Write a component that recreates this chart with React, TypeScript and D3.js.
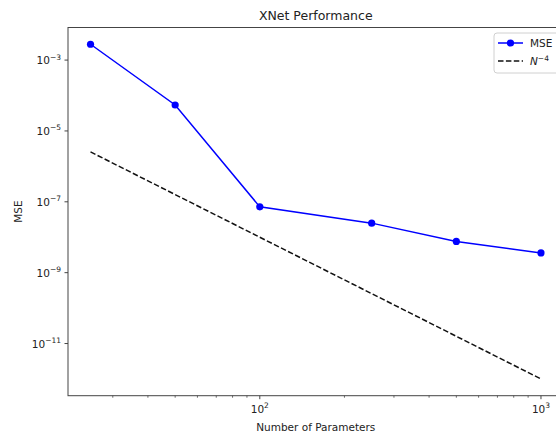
import React from 'react';
import * as d3 from 'd3';

// data
const params = [25, 50, 100, 250, 500, 1000];
const mse = [2.8e-3, 5.4e-5, 7.2e-8, 2.5e-8, 7.6e-9, 3.6e-9];
const refLine = [2.56e-6, 1.6e-7, 1e-8, 2.56e-10, 1.6e-11, 1e-12]; // N^-4
const xMajor = [100, 1000];
const yMajor = [1e-3, 1e-5, 1e-7, 1e-9, 1e-11];

const W = 556;
const H = 434;
const plot = { left: 68, right: 563.5, top: 27.5, bottom: 395.7 };
const font = 'DejaVu Sans, sans-serif';

// matplotlib-like 5% margin in log space
const logPad = (lo: number, hi: number) => {
  const a = Math.log10(lo), b = Math.log10(hi);
  const m = (b - a) * 0.05;
  return [Math.pow(10, a - m), Math.pow(10, b + m)];
};

const App = () => {
  const x = d3.scaleLog()
    .domain(logPad(d3.min(params)!, d3.max(params)!))
    .range([plot.left, plot.right]);
  const allY = [...mse, ...refLine];
  const y = d3.scaleLog()
    .domain(logPad(d3.min(allY)!, d3.max(allY)!))
    .range([plot.bottom, plot.top]);

  const [x0, x1] = x.domain();
  const xMinor = x.ticks().filter(t => t > x0 && t < x1 && !xMajor.includes(t));

  const line = d3.line<[number, number]>()
    .x(d => x(d[0]))
    .y(d => y(d[1]));

  const msePts = params.map((p, i) => [p, mse[i]] as [number, number]);
  const refPts = params.map((p, i) => [p, refLine[i]] as [number, number]);

  const expOf = (v: number) => Math.round(Math.log10(v));

  return (
    <svg width={W} height={H} style={{ position: 'absolute', left: 0, top: 0, background: '#fff' }}
      fontFamily={font}>
      <rect x={0} y={0} width={W} height={H} fill="#fff" />
      <text x={(plot.left + plot.right) / 2} y={20} textAnchor="middle" fontSize={12.5} fill="#222">
        XNet Performance
      </text>

      {/* data */}
      <path d={line(refPts)!} fill="none" stroke="#111" strokeWidth={1.5} strokeDasharray="5.5,2.4" />
      <path d={line(msePts)!} fill="none" stroke="#0000ff" strokeWidth={1.5} />
      {msePts.map((d, i) => (
        <circle key={i} cx={x(d[0])} cy={y(d[1])} r={3.6} fill="#0000ff" />
      ))}

      {/* spines */}
      <rect x={plot.left} y={plot.top} width={plot.right - plot.left} height={plot.bottom - plot.top}
        fill="none" stroke="#444" strokeWidth={1} />

      {/* x ticks */}
      {xMajor.map(t => (
        <g key={t} transform={`translate(${x(t)},${plot.bottom})`}>
          <line y1={0} y2={3.5} stroke="#444" strokeWidth={1} />
          <text y={17} textAnchor="middle" fontSize={10.5} fill="#222">
            10<tspan dy={-4.5} fontSize={7.5}>{expOf(t)}</tspan>
          </text>
        </g>
      ))}
      {xMinor.map(t => (
        <line key={t} x1={x(t)} x2={x(t)} y1={plot.bottom} y2={plot.bottom + 2} stroke="#444" strokeWidth={0.8} />
      ))}

      {/* y ticks */}
      {yMajor.map(t => (
        <g key={t} transform={`translate(${plot.left},${y(t)})`}>
          <line x1={0} x2={-3.5} stroke="#444" strokeWidth={1} />
          <text x={-7} y={4} textAnchor="end" fontSize={10.5} fill="#222">
            10<tspan dy={-4.5} fontSize={7.5}>{'\u2212' + Math.abs(expOf(t))}</tspan>
          </text>
        </g>
      ))}

      {/* axis labels */}
      <text x={(plot.left + plot.right) / 2} y={431} textAnchor="middle" fontSize={10.5} fill="#222">
        Number of Parameters
      </text>
      <text transform={`translate(22,${(plot.top + plot.bottom) / 2}) rotate(-90)`} textAnchor="middle"
        fontSize={10.5} fill="#222">
        MSE
      </text>

      {/* legend */}
      <g transform="translate(494,33)">
        <rect x={0} y={0} width={80} height={40} rx={3} fill="#fff" fillOpacity={0.8} stroke="#d0d0d0" strokeWidth={1} />
        <line x1={4} x2={29} y1={10} y2={10} stroke="#0000ff" strokeWidth={1.5} />
        <circle cx={16.5} cy={10} r={3.6} fill="#0000ff" />
        <text x={36} y={14} fontSize={10.5} fill="#222">MSE</text>
        <line x1={4} x2={29} y1={28} y2={28} stroke="#111" strokeWidth={1.5} strokeDasharray="5.5,2.4" />
        <text x={36} y={32} fontSize={10.5} fill="#222">
          <tspan fontStyle="italic">N</tspan>
          <tspan dy={-4.5} fontSize={7.5}>{'\u2212' + 4}</tspan>
        </text>
      </g>
    </svg>
  );
};

export default App;
